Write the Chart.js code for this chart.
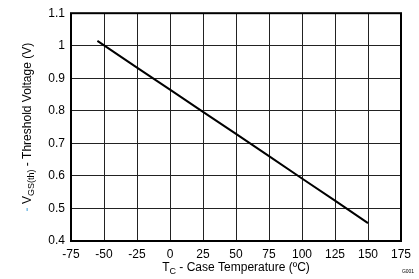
<!DOCTYPE html>
<html><head><meta charset="utf-8">
<script src="https://cdn.jsdelivr.net/npm/chart.js@4/dist/chart.umd.min.js"></script>
<style>html,body{margin:0;padding:0;background:#fff}canvas{display:block}</style>
</head><body>
<canvas id="c" width="419" height="279"></canvas>
<script>
const temperatures = [-55, -25, 0, 25, 50, 75, 100, 125, 150];
const thresholdVoltage = [1.015, 0.933, 0.865, 0.797, 0.729, 0.661, 0.592, 0.524, 0.455];
const xTicks = [-75, -50, -25, 0, 25, 50, 75, 100, 125, 150, 175];
const yTicks = [0.4, 0.5, 0.6, 0.7, 0.8, 0.9, 1, 1.1];

const FONT = "'Liberation Sans', Arial, sans-serif";

const titles = {
  id: 'titles',
  afterDraw(chart) {
    const ctx = chart.ctx;
    const a = chart.chartArea;
    ctx.save();
    ctx.strokeStyle = '#000';
    ctx.lineWidth = 2;
    ctx.strokeRect(a.left, a.top, a.right - a.left, a.bottom - a.top);
    ctx.restore();

    ctx.save();
    ctx.fillStyle = '#000';
    ctx.textBaseline = 'alphabetic';
    const parts = [
      {t: 'T', f: '12px ' + FONT, dy: 0},
      {t: 'C', f: '9px ' + FONT, dy: 3},
      {t: ' - Case Temperature (ºC)', f: '12px ' + FONT, dy: 0}
    ];
    let w = 0;
    parts.forEach(p => { ctx.font = p.f; p.w = ctx.measureText(p.t).width; w += p.w; });
    let x = (a.left + a.right) / 2 - w / 2;
    const by = 271;
    parts.forEach(p => { ctx.font = p.f; ctx.fillText(p.t, x, by + p.dy); x += p.w; });
    ctx.restore();

    ctx.save();
    ctx.translate(31, (a.top + a.bottom) / 2);
    ctx.rotate(-Math.PI / 2);
    ctx.textBaseline = 'alphabetic';
    const yp = [
      {t: '- ', f: 'bold 12px ' + FONT, dy: 0, c: '#86c3e8'},
      {t: 'V', f: '12px ' + FONT, dy: 0, c: '#000'},
      {t: 'GS(th)', f: '9px ' + FONT, dy: 3, c: '#000'},
      {t: ' - Threshold Voltage (V)', f: '12px ' + FONT, dy: 0, c: '#000'}
    ];
    let yw = 0;
    yp.forEach(p => { ctx.font = p.f; p.w = ctx.measureText(p.t).width; yw += p.w; });
    let yx = -yw / 2;
    yp.forEach(p => { ctx.font = p.f; ctx.fillStyle = p.c; ctx.fillText(p.t, yx, p.dy); yx += p.w; });
    ctx.restore();

    ctx.save();
    ctx.font = '5px ' + FONT;
    ctx.fillStyle = '#000';
    ctx.textAlign = 'center';
    ctx.textBaseline = 'middle';
    ctx.fillText('G001', 408, 272);
    ctx.restore();
  }
};

new Chart(document.getElementById('c'), {
  type: 'line',
  data: {
    datasets: [{
      data: temperatures.map((t, i) => ({x: t, y: thresholdVoltage[i]})),
      borderColor: '#000',
      borderWidth: 2,
      pointRadius: 0,
      fill: false,
      tension: 0
    }]
  },
  options: {
    responsive: false,
    animation: false,
    devicePixelRatio: 1,
    layout: {padding: {top: 7, right: 18, left: 0, bottom: 0}},
    plugins: {legend: {display: false}, tooltip: {enabled: false}},
    scales: {
      x: {
        type: 'linear',
        min: -75, max: 175,
        afterBuildTicks: s => { s.ticks = xTicks.map(v => ({value: v})); },
        afterFit: s => { s.height = 38; },
        grid: {color: '#222', lineWidth: 1, drawTicks: false},
        border: {display: false},
        ticks: {color: '#000', font: {family: FONT, size: 12}, padding: 6, maxRotation: 0, autoSkip: false}
      },
      y: {
        type: 'linear',
        min: 0.4, max: 1.1,
        afterBuildTicks: s => { s.ticks = yTicks.map(v => ({value: v})); },
        afterFit: s => { s.width = 71; },
        grid: {color: '#222', lineWidth: 1, drawTicks: false},
        border: {display: false},
        ticks: {color: '#000', font: {family: FONT, size: 12}, padding: 6, autoSkip: false,
          callback: v => String(Math.round(v * 10) / 10)}
      }
    }
  },
  plugins: [titles]
});
</script>
</body></html>
